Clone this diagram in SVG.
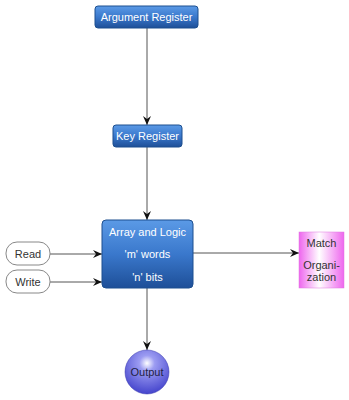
<svg xmlns="http://www.w3.org/2000/svg" width="349" height="400" viewBox="0 0 349 400">
<style>
text{font-family:"Liberation Sans",Arial,sans-serif;font-size:11px;text-anchor:middle}
.w{fill:#ffffff}
.d{fill:#333333}
.box{fill:url(#blue);stroke:#1d4f8f;stroke-width:1}
.pill{fill:#ffffff;stroke:#888888;stroke-width:1}
.ln{stroke:#555555;stroke-width:1;fill:none;marker-end:url(#ah)}
</style>
<defs>
<linearGradient id="blue" x1="0" y1="0" x2="0" y2="1">
<stop offset="0" stop-color="#5b9ae6"/>
<stop offset="0.5" stop-color="#3a78cc"/>
<stop offset="1" stop-color="#1e4f98"/>
</linearGradient>
<linearGradient id="pink" x1="0" y1="0" x2="1" y2="0">
<stop offset="0" stop-color="#ee66ee"/>
<stop offset="0.45" stop-color="#ffffff"/>
<stop offset="1" stop-color="#ee66ee"/>
</linearGradient>
<radialGradient id="ball" cx="0.5" cy="0.3" r="0.7">
<stop offset="0" stop-color="#ffffff"/>
<stop offset="0.25" stop-color="#9c9cf2"/>
<stop offset="1" stop-color="#4444cc"/>
</radialGradient>
<marker id="ah" markerWidth="10" markerHeight="8" refX="9" refY="4" orient="auto" markerUnits="userSpaceOnUse">
<path d="M0,0 L9,4 L0,8 L3,4 Z" fill="#111111"/>
</marker>
</defs>
<g id="connectors">
<line class="ln" x1="147" y1="28" x2="147" y2="125"/>
<line class="ln" x1="147" y1="147" x2="147" y2="220"/>
<line class="ln" x1="50" y1="254" x2="102" y2="254"/>
<line class="ln" x1="50" y1="282" x2="102" y2="282"/>
<line class="ln" x1="193" y1="253" x2="299" y2="253"/>
<line class="ln" x1="147" y1="288" x2="147" y2="350"/>
</g>
<g id="argument-register">
<rect class="box" x="95" y="6" width="103" height="22" rx="3"/>
<text class="w" x="146.5" y="21">Argument Register</text>
</g>
<g id="key-register">
<rect class="box" x="113" y="125" width="69" height="22" rx="3"/>
<text class="w" x="147.5" y="140">Key Register</text>
</g>
<g id="array-logic">
<rect class="box" x="102" y="220" width="91" height="68" rx="4"/>
<text class="w" x="147.5" y="236">Array and Logic</text>
<text class="w" x="147.5" y="258">'m' words</text>
<text class="w" x="147.5" y="281">'n' bits</text>
</g>
<g id="read">
<rect class="pill" x="6" y="242" width="44" height="23" rx="11"/>
<text class="d" x="28" y="258">Read</text>
</g>
<g id="write">
<rect class="pill" x="6" y="270" width="44" height="23" rx="11"/>
<text class="d" x="28" y="286">Write</text>
</g>
<g id="match">
<rect x="299" y="232" width="45" height="56" fill="url(#pink)" stroke="#dd77dd" stroke-width="0.5"/>
<text class="d" x="321.5" y="247">Match</text>
<text class="d" x="321.5" y="269">Organi-</text>
<text class="d" x="321.5" y="281">zation</text>
</g>
<g id="output">
<circle cx="147" cy="372" r="22" fill="url(#ball)" stroke="#3333aa" stroke-width="0.5"/>
<text fill="#222244" x="147" y="376">Output</text>
</g>
</svg>
